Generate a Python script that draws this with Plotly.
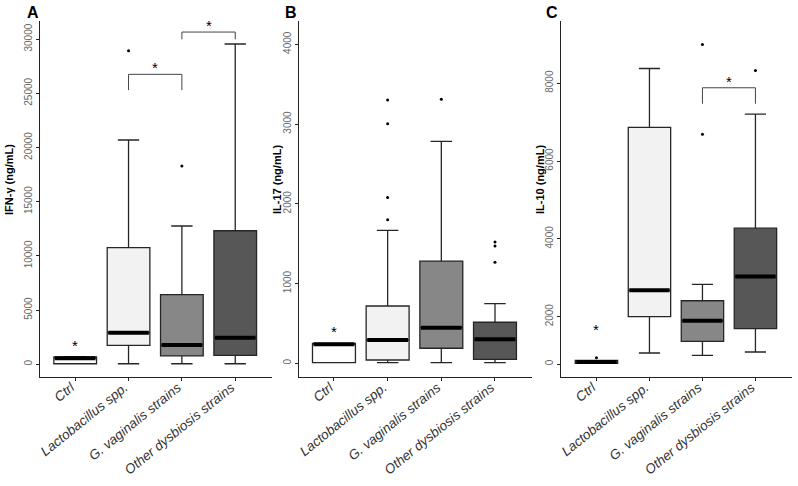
import plotly.graph_objects as go

# group labels and box fills
categories = ["Ctrl", "Lactobacillus spp.", "G. vaginalis strains", "Other dysbiosis strains"]
box_fills = ["#ffffff", "#f2f2f2", "#878787", "#575757"]

# IFN-gamma (panel A), ng/mL
ifng_low = [50, 50, 50, 50]
ifng_q1 = [50, 1750, 770, 830]
ifng_median = [550, 2920, 1780, 2450]
ifng_q3 = [680, 10760, 6420, 12320]
ifng_high = [700, 20690, 12760, 29550]
ifng_outlier_group = [1, 2]
ifng_outlier_value = [28930, 18290]
ifng_star_group = [0]
ifng_star_value = [1700]
# brackets: (group a, group b, leg bottom, bar top)
ifng_brackets = [(1, 2, 25300, 26750), (2, 3, 29980, 30650)]

# IL-17 (panel B)
il17_low = [8, 8, 8, 8]
il17_q1 = [8, 41, 188, 50]
il17_median = [238, 292, 446, 301]
il17_q3 = [250, 718, 1282, 514]
il17_high = [250, 1667, 2782, 747]
il17_outlier_group = [1, 1, 1, 1, 2, 3, 3, 3]
il17_outlier_value = [1800, 2080, 3003, 3300, 3312, 1266, 1470, 1520]
il17_star_group = [0]
il17_star_value = [400]
il17_brackets = []

# IL-10 (panel C)
il10_low = [30, 465, 368, 507]
il10_q1 = [30, 2000, 959, 1500]
il10_median = [90, 2677, 1831, 3036]
il10_q3 = [150, 6864, 2410, 4274]
il10_high = [150, 8377, 2831, 7205]
il10_outlier_group = [0, 2, 2, 3]
il10_outlier_value = [266, 6685, 8995, 8326]
il10_star_group = [0]
il10_star_value = [1450]
il10_brackets = [(2, 3, 7472, 7882)]


def identity(v):
    return v


def il10_scale(v):
    # panel C axis is compressed below 2000
    k = 0.6077
    return v * k if v <= 2000 else 2000 * k + (v - 2000)


panels = [
    dict(low=ifng_low, q1=ifng_q1, med=ifng_median, q3=ifng_q3, high=ifng_high,
         og=ifng_outlier_group, ov=ifng_outlier_value, sg=ifng_star_group, sv=ifng_star_value,
         br=ifng_brackets, tf=identity, ticks=[0, 5000, 10000, 15000, 20000, 25000, 30000],
         yr=[-1125, 31670], dom=[0.0501, 0.3409], title="IFN-γ (ng/mL)", letter="A",
         tx=9, lx=33),
    dict(low=il17_low, q1=il17_q1, med=il17_median, q3=il17_q3, high=il17_high,
         og=il17_outlier_group, ov=il17_outlier_value, sg=il17_star_group, sv=il17_star_value,
         br=il17_brackets, tf=identity, ticks=[0, 1000, 2000, 3000, 4000],
         yr=[-166, 4292], dom=[0.3741, 0.6667], title="IL-17 (ng/mL)", letter="B",
         tx=277, lx=291),
    dict(low=il10_low, q1=il10_q1, med=il10_median, q3=il10_q3, high=il10_high,
         og=il10_outlier_group, ov=il10_outlier_value, sg=il10_star_group, sv=il10_star_value,
         br=il10_brackets, tf=il10_scale, ticks=[0, 2000, 4000, 6000, 8000],
         yr=[-321, 8813], dom=[0.7036, 0.9925], title="IL-10 (ng/mL)", letter="C",
         tx=540, lx=552),
]

W, H = 798, 486
box_w = 0.8
font = "Liberation Sans, Arial, sans-serif"

fig = go.Figure()
annotations = []
layout = {}

for p_i, p in enumerate(panels):
    n = "" if p_i == 0 else str(p_i + 1)
    xa, ya = "x" + n, "y" + n
    tf = p["tf"]

    for g in range(len(categories)):
        fig.add_trace(go.Box(
            x=[g], q1=[tf(p["q1"][g])], median=[tf(p["med"][g])], q3=[tf(p["q3"][g])],
            lowerfence=[tf(p["low"][g])], upperfence=[tf(p["high"][g])],
            width=box_w, whiskerwidth=0.5, fillcolor=box_fills[g],
            line=dict(color="#262626", width=1.3), boxpoints=False,
            showlegend=False, hoverinfo="skip", xaxis=xa, yaxis=ya))
        # thick median bar
        fig.add_trace(go.Scatter(
            x=[g - box_w / 2 + 0.02, g + box_w / 2 - 0.02], y=[tf(p["med"][g])] * 2,
            mode="lines", line=dict(color="black", width=4),
            showlegend=False, hoverinfo="skip", xaxis=xa, yaxis=ya))

    fig.add_trace(go.Scatter(
        x=p["og"], y=[tf(v) for v in p["ov"]], mode="markers",
        marker=dict(color="black", size=3), showlegend=False, hoverinfo="skip",
        xaxis=xa, yaxis=ya))

    for g, v in zip(p["sg"], p["sv"]):
        annotations.append(dict(x=g, y=tf(v), xref=xa, yref=ya, text="*", showarrow=False,
                                font=dict(family=font, size=15, color="black")))

    for a, b, bottom, top in p["br"]:
        fig.add_trace(go.Scatter(
            x=[a, a, b, b], y=[tf(bottom), tf(top), tf(top), tf(bottom)], mode="lines",
            line=dict(color="#444444", width=1), showlegend=False, hoverinfo="skip",
            xaxis=xa, yaxis=ya))
        annotations.append(dict(x=(a + b) / 2, y=tf(top), xref=xa, yref=ya, text="*",
                                showarrow=False, yanchor="bottom", yshift=-4,
                                font=dict(family=font, size=15, color="black")))

    layout["xaxis" + n] = dict(
        domain=p["dom"], range=[-0.66, 3.69], anchor=ya, tickvals=list(range(len(categories))),
        ticktext=categories, tickangle=-39, showline=True, linecolor="#222222", linewidth=1,
        ticks="outside", ticklen=3, tickcolor="#222222", showgrid=False, zeroline=False,
        ticklabelstandoff=-6, ticklabelshift=-4, automargin=False,
        tickfont=dict(family=font, size=13.5, color="#333333", style="italic"))
    layout["yaxis" + n] = dict(
        domain=[1 - 376.5 / H, 1 - 21 / H], range=p["yr"], anchor=xa,
        tickvals=[tf(t) for t in p["ticks"]], ticktext=[str(t) for t in p["ticks"]],
        tickangle=-90, showline=True, linecolor="#222222", linewidth=1, ticks="outside",
        ticklen=3, tickcolor="#222222", showgrid=False, zeroline=False, automargin=False,
        tickfont=dict(family=font, size=10, color="#666666"))

    annotations.append(dict(x=p["tx"] / W, y=1 - 180 / H, xref="paper", yref="paper",
                            xanchor="center", yanchor="middle",
                            text="<b>" + p["title"] + "</b>", textangle=-90, showarrow=False,
                            font=dict(family=font, size=11, color="black")))
    annotations.append(dict(x=p["lx"] / W, y=1 - 12 / H, xref="paper", yref="paper",
                            xanchor="center", yanchor="middle",
                            text="<b>" + p["letter"] + "</b>", showarrow=False,
                            font=dict(family=font, size=16, color="black")))

fig.update_layout(
    width=W, height=H, margin=dict(l=0, r=0, t=0, b=0),
    paper_bgcolor="white", plot_bgcolor="white",
    annotations=annotations, **layout)

# drop the page's default body margin so the figure sits at the window's corner
fig.write_html("out.html", config={"displayModeBar": False},
               post_script="document.body.style.margin='0';")
